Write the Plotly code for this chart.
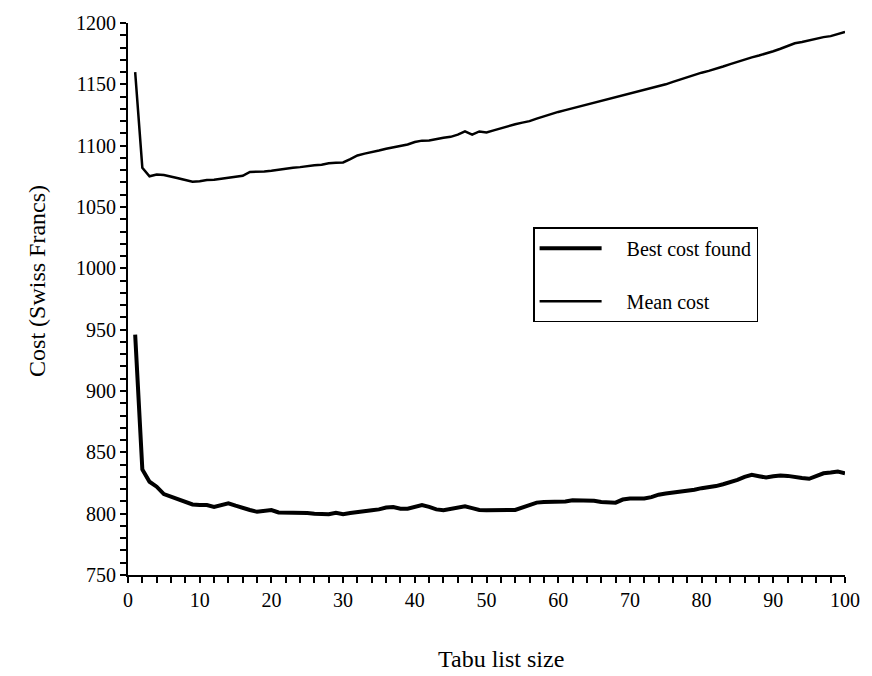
import plotly.graph_objects as go

tabu_size = list(range(1, 101))

best_cost = [
    946, 836, 826, 822, 816, 814, 812, 810, 807.5, 807,
    807, 805.5, 807, 808.5, 806.5, 804.5, 803, 801.5, 802, 803,
    801, 801, 801, 800.8, 800.5, 800, 799.6, 799.6, 800.8, 799.6,
    800.5, 801, 802, 802.8, 803.5, 805, 805.4, 804, 804, 805.5,
    807, 805.5, 803.5, 802.8, 804, 805.5, 806, 804.5, 803, 802.8,
    803, 803.5, 803, 803, 805, 807.5, 809, 809.5, 809.5, 809.8,
    810, 811, 811.1, 811.1, 810.5, 809.5, 809, 809, 811.5, 812.4,
    812.4, 812.4, 813.5, 815.5, 816.4, 817, 818, 818.2, 819.5, 820.8,
    821.5, 822.5, 824, 825.7, 827.5, 830, 831.6, 830.5, 829.5, 830.5,
    831.1, 830.8, 830.3, 829, 828.4, 831, 832.9, 833.5, 834.3, 833,
]

mean_cost = [
    1160, 1082, 1075, 1076.5, 1076, 1075, 1073.5, 1072, 1070.6, 1071,
    1072, 1072.2, 1073, 1074, 1074.5, 1075.4, 1078.6, 1078.5, 1079, 1079.5,
    1080.5, 1081, 1082, 1082.5, 1083.4, 1084, 1084.5, 1085.6, 1086, 1086.3,
    1089, 1092, 1093.5, 1094.5, 1096, 1097.5, 1098.5, 1099.5, 1101, 1103,
    1104.1, 1104.2, 1105.5, 1106.5, 1107.2, 1109, 1111.6, 1109, 1111.6, 1110.8,
    1112.5, 1114.3, 1116, 1117.5, 1118.8, 1120, 1122, 1124, 1126, 1127.5,
    1129, 1130.5, 1132, 1133.5, 1135, 1136.5, 1138, 1139.5, 1141, 1142,
    1143.5, 1145, 1146.5, 1148.5, 1150, 1152, 1154, 1155.5, 1157.5, 1159.5,
    1161, 1162.5, 1164.5, 1166.5, 1168.5, 1170.5, 1172, 1173.5, 1175, 1177,
    1179, 1181, 1183.5, 1184.5, 1186, 1187, 1188.5, 1189.3, 1191, 1192.8,
]

series_names = ["Best cost found", "Mean cost"]

X_RANGE = [0, 100]
Y_RANGE = [750, 1200]
x_tick_positions = list(range(0, 101, 2))
x_tick_labels = [str(v) if v % 10 == 0 else "" for v in x_tick_positions]
y_tick_positions = list(range(750, 1201, 10))
y_tick_labels = [str(v) if v % 50 == 0 else "" for v in y_tick_positions]

FONT = "Liberation Serif, Times New Roman, serif"
PAD = "\u00a0\u00a0\u00a0\u00a0"

fig = go.Figure()
fig.add_trace(go.Scatter(
    x=tabu_size, y=best_cost, mode="lines", name=PAD + series_names[0],
    line=dict(color="black", width=4), legendgroup="a",
))
fig.add_trace(go.Scatter(
    x=tabu_size, y=mean_cost, mode="lines", name=PAD + series_names[1],
    line=dict(color="black", width=2.5), legendgroup="b",
))

fig.update_layout(
    width=872, height=676,
    margin=dict(l=128, r=24, t=15, b=101),
    plot_bgcolor="white", paper_bgcolor="white",
    font=dict(family=FONT, size=20, color="black"),
    showlegend=True,
    legend=dict(
        x=0.565, y=0.630, xanchor="left", yanchor="top",
        bordercolor="black", borderwidth=1.5, bgcolor="white",
        font=dict(family=FONT, size=20, color="black"),
        tracegroupgap=24, traceorder="grouped",
        itemwidth=62,
    ),
    xaxis=dict(
        range=X_RANGE, tickmode="array", tickvals=x_tick_positions, ticktext=x_tick_labels,
        showgrid=False, zeroline=False, showline=True, linecolor="black", linewidth=2,
        ticks="outside", ticklen=6, tickwidth=2, tickcolor="black",
        tickfont=dict(family=FONT, size=20),
    ),
    yaxis=dict(
        range=Y_RANGE, tickmode="array", tickvals=y_tick_positions, ticktext=y_tick_labels,
        showgrid=False, zeroline=False, showline=True, linecolor="black", linewidth=2,
        ticks="outside", ticklen=6, tickwidth=2, tickcolor="black",
        tickfont=dict(family=FONT, size=20),
    ),
    annotations=[
        dict(text="Cost (Swiss Francs)", xref="paper", yref="paper",
             x=-0.147, y=0.532, textangle=-90, showarrow=False, yanchor="middle",
             font=dict(family=FONT, size=24)),
        dict(text="Tabu list size", xref="paper", yref="paper",
             x=0.52, y=-0.152, yanchor="middle", showarrow=False,
             font=dict(family=FONT, size=24)),
    ],
)

fig.write_html("out.html")
